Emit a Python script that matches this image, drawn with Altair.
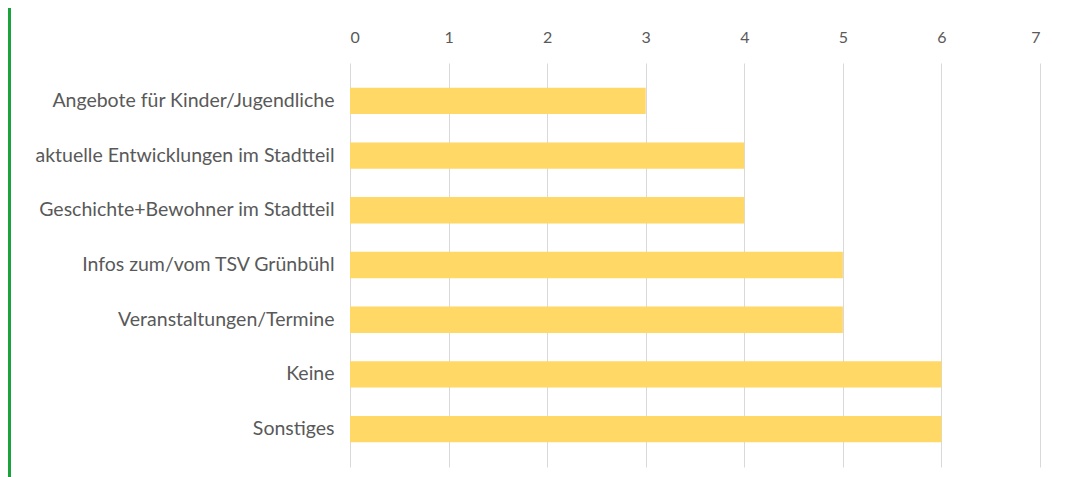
import altair as alt
import pandas as pd

categories = [
    "Angebote für Kinder/Jugendliche",
    "aktuelle Entwicklungen im Stadtteil",
    "Geschichte+Bewohner im Stadtteil",
    "Infos zum/vom TSV Grünbühl",
    "Veranstaltungen/Termine",
    "Keine",
    "Sonstiges",
]
values = [3, 4, 4, 5, 5, 6, 6]
tick_values = [0, 1, 2, 3, 4, 5, 6, 7]

df = pd.DataFrame({"cat": categories, "val": values})

bars = alt.Chart(df).mark_bar(color="#FFD865").encode(
    y=alt.Y("cat:N", sort=categories, title=None,
            scale=alt.Scale(paddingInner=0.52, paddingOuter=0.45),
            axis=alt.Axis(domain=False, ticks=False, labelPadding=16,
                          labelFont="Lato", labelFontSize=19.5, labelColor="#595959",
                          labelLimit=400)),
    x=alt.X("val:Q", title=None,
            scale=alt.Scale(domain=[0, 7], nice=False),
            axis=alt.Axis(orient="top", values=tick_values, domain=False, ticks=False,
                          labelPadding=18, labelFont="Lato", labelFontSize=16,
                          labelColor="#595959", grid=True, gridColor="#D9D9D9",
                          gridWidth=1)),
)

border = alt.Chart(df).mark_rule(color="#1AA33A", strokeWidth=3).encode(
    x=alt.value(-340.5), y=alt.value(-70), y2=alt.value(420)
)

chart = alt.layer(border, bars).properties(
    width=690, height=404,
    autosize=alt.AutoSizeParams(type="none"),
    padding={"left": 342, "top": 55, "right": 10, "bottom": 10},
).configure_view(stroke=None)

chart.save("out.html", embed_options={"renderer": "svg", "actions": False})
